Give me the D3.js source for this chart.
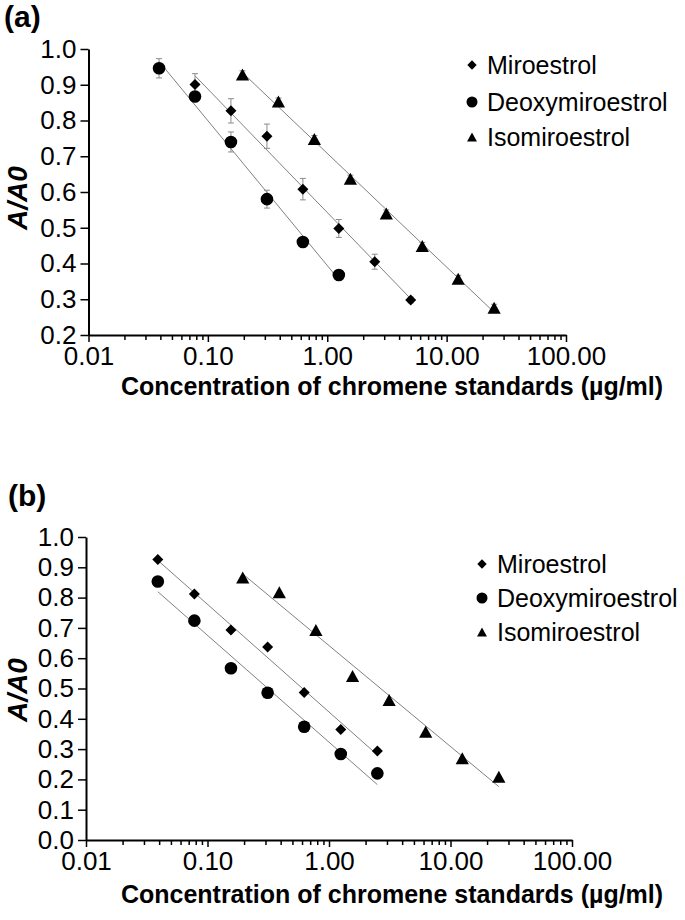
<!DOCTYPE html>
<html><head><meta charset="utf-8">
<script src="https://cdn.jsdelivr.net/npm/d3@7"></script>
<style>body{margin:0;background:#fff}svg{display:block}</style>
</head><body><svg id="c" width="685" height="920"></svg>
<script>
// ---------- data ----------
const seriesNames = ["Miroestrol", "Deoxymiroestrol", "Isomiroestrol"];
const xTickValues = [0.01, 0.1, 1, 10, 100];
const xTickLabels = ["0.01", "0.10", "1.00", "10.00", "100.00"];
const yTicksA = [0.2, 0.3, 0.4, 0.5, 0.6, 0.7, 0.8, 0.9, 1.0];
const yTicksB = [0.0, 0.1, 0.2, 0.3, 0.4, 0.5, 0.6, 0.7, 0.8, 0.9, 1.0];

// panel (a)
const concMiroA  = [0.078, 0.156, 0.3125, 0.625, 1.25, 2.5, 5];
const miroA      = [0.901, 0.827, 0.756, 0.608, 0.498, 0.405, 0.298];
const miroErrA   = [0.030, 0.034, 0.034, 0.030, 0.025, 0.021, 0.008];
const concDeoxyA = [0.039, 0.078, 0.156, 0.3125, 0.625, 1.25];
const deoxyA     = [0.946, 0.867, 0.740, 0.580, 0.460, 0.368];
const deoxyErrA  = [0.027, 0.012, 0.028, 0.025, 0.012, 0.010];
const concIsoA   = [0.195, 0.39, 0.78, 1.5625, 3.125, 6.25, 12.5, 25];
const isoA       = [0.929, 0.853, 0.748, 0.637, 0.540, 0.449, 0.357, 0.276];
const isoErrA    = [0.010, 0.010, 0.010, 0.010, 0.010, 0.010, 0.010, 0.010];

// panel (b)
const concMiroB  = [0.039, 0.078, 0.156, 0.3125, 0.625, 1.25, 2.5];
const miroB      = [0.926, 0.812, 0.693, 0.637, 0.487, 0.365, 0.294];
const concDeoxyB = [0.039, 0.078, 0.156, 0.3125, 0.625, 1.25, 2.5];
const deoxyB     = [0.853, 0.724, 0.567, 0.486, 0.374, 0.284, 0.220];
const concIsoB   = [0.195, 0.39, 0.78, 1.5625, 3.125, 6.25, 12.5, 25];
const isoB       = [0.866, 0.818, 0.693, 0.541, 0.462, 0.357, 0.270, 0.209];

// ---------- drawing ----------
const FONT = "'Liberation Sans', Arial, Helvetica, sans-serif";
const svg = d3.select("#c");
svg.append("rect").attr("width", 685).attr("height", 920).attr("fill", "#fff");

function markerPath(type, cx, cy, s) {
  const p = d3.path();
  if (type === "diamond") {
    p.moveTo(cx, cy - s); p.lineTo(cx + s, cy); p.lineTo(cx, cy + s); p.lineTo(cx - s, cy); p.closePath();
  } else if (type === "circle") {
    p.arc(cx, cy, s, 0, 2 * Math.PI);
  } else {
    const w = s * 1.1, h = s;
    p.moveTo(cx, cy - h); p.lineTo(cx + w, cy + h); p.lineTo(cx - w, cy + h); p.closePath();
  }
  return p.toString();
}

function logFit(xs, ys) {
  const lx = xs.map(Math.log);
  const mx = d3.mean(lx), my = d3.mean(ys);
  let sxy = 0, sxx = 0;
  lx.forEach((v, i) => { sxy += (v - mx) * (ys[i] - my); sxx += (v - mx) * (v - mx); });
  const b = sxy / sxx, a = my - b * mx;
  return x => a + b * Math.log(x);
}

function panel(cfg) {
  const g = svg.append("g");
  const x = d3.scaleLog().domain([0.01, 100]).range(cfg.xr);
  const y = d3.scaleLinear().domain(cfg.yd).range(cfg.yr);
  const y0 = cfg.yr[0];

  // x axis: minor ticks
  const minor = x.ticks().filter(v => !xTickValues.some(t => Math.abs(t - v) / t < 1e-9));
  g.append("g").attr("transform", `translate(0,${y0})`)
    .call(d3.axisBottom(x).tickValues(minor).tickSize(5).tickSizeOuter(0).tickFormat(""))
    .call(a => a.select(".domain").remove())
    .call(a => a.selectAll("line").attr("stroke", "#000").attr("stroke-width", 1.5));
  // x axis: major
  g.append("g").attr("transform", `translate(0,${y0})`)
    .call(d3.axisBottom(x).tickValues(xTickValues).tickSize(7).tickSizeOuter(0).tickPadding(cfg.xPad)
      .tickFormat((d, i) => xTickLabels[i]))
    .call(a => a.select(".domain").attr("stroke", "#000").attr("stroke-width", 2))
    .call(a => a.selectAll("line").attr("stroke", "#000").attr("stroke-width", 1.5))
    .call(a => a.selectAll("text").attr("font-family", FONT).attr("font-size", 26).attr("fill", "#000"));

  // y axis
  g.append("g").attr("transform", `translate(${cfg.xr[0]},0)`)
    .call(d3.axisLeft(y).tickValues(cfg.yTicks).tickSize(8).tickSizeOuter(0).tickPadding(4)
      .tickFormat(d3.format(".1f")))
    .call(a => a.select(".domain").attr("stroke", "#000").attr("stroke-width", 2))
    .call(a => a.selectAll("line").attr("stroke", "#000").attr("stroke-width", 1.5))
    .call(a => a.selectAll("text").attr("font-family", FONT).attr("font-size", 26).attr("fill", "#000"));

  // axis titles
  g.append("text").attr("x", 392).attr("y", y0 + cfg.titleOff)
    .attr("text-anchor", "middle").attr("dominant-baseline", "central")
    .attr("font-family", FONT).attr("font-size", 25).attr("font-weight", "bold")
    .text("Concentration of chromene standards (µg/ml)");
  g.append("text")
    .attr("transform", `translate(17,${cfg.yTitleY}) rotate(-90)`)
    .attr("text-anchor", "middle").attr("dominant-baseline", "central")
    .attr("font-family", FONT).attr("font-size", 28).attr("font-weight", "bold").attr("font-style", "italic")
    .text("A/A0");
  g.append("text").attr("x", cfg.labelX).attr("y", cfg.labelY)
    .attr("font-family", FONT).attr("font-size", 30).attr("font-weight", "bold").text(cfg.label);

  // series
  cfg.series.forEach(s => {
    const f = logFit(s.conc, s.vals);
    const x1 = d3.min(s.conc), x2 = d3.max(s.conc);
    g.append("line").attr("x1", x(x1)).attr("y1", y(f(x1))).attr("x2", x(x2)).attr("y2", y(f(x2)))
      .attr("stroke", "#808080").attr("stroke-width", 1);
    if (s.err) {
      s.conc.forEach((c, i) => {
        const cx = x(c), top = y(s.vals[i] + s.err[i]), bot = y(s.vals[i] - s.err[i]);
        const eg = g.append("g").attr("stroke", "#8c8c8c").attr("stroke-width", 1);
        eg.append("line").attr("x1", cx).attr("x2", cx).attr("y1", top).attr("y2", bot);
        eg.append("line").attr("x1", cx - 3).attr("x2", cx + 3).attr("y1", top).attr("y2", top);
        eg.append("line").attr("x1", cx - 3).attr("x2", cx + 3).attr("y1", bot).attr("y2", bot);
      });
    }
    s.conc.forEach((c, i) => {
      g.append("path").attr("d", markerPath(s.type, x(c), y(s.vals[i]), s.size)).attr("fill", "#000");
    });
  });

  // legend
  seriesNames.forEach((name, i) => {
    const ly = cfg.legY[i];
    const t = cfg.series[i].type;
    const sz = t === "circle" ? 5.5 : t === "diamond" ? 4.7 : 4.5;
    g.append("path").attr("d", markerPath(t, cfg.legMX, ly, sz)).attr("fill", "#000");
    g.append("text").attr("x", cfg.legTX).attr("y", ly).attr("dominant-baseline", "central")
      .attr("font-family", FONT).attr("font-size", 25).attr("fill", "#000").text(name);
  });
}

panel({
  xr: [88.5, 566], yd: [0.2, 1.0], yr: [335, 49], yTicks: yTicksA,
  xPad: 5, titleOff: 51, yTitleY: 198,
  label: "(a)", labelX: 4, labelY: 27,
  legMX: 472, legTX: 487, legY: [65, 102, 137],
  series: [
    {type: "diamond", conc: concMiroA, vals: miroA, err: miroErrA, size: 5.5},
    {type: "circle", conc: concDeoxyA, vals: deoxyA, err: deoxyErrA, size: 6.3},
    {type: "triangle", conc: concIsoA, vals: isoA, err: isoErrA, size: 6}
  ]
});
panel({
  xr: [86, 572], yd: [0.0, 1.0], yr: [840, 537], yTicks: yTicksB,
  xPad: 5, titleOff: 54, yTitleY: 690,
  label: "(b)", labelX: 8, labelY: 506,
  legMX: 482, legTX: 497, legY: [564, 598, 632],
  series: [
    {type: "diamond", conc: concMiroB, vals: miroB, size: 5.5},
    {type: "circle", conc: concDeoxyB, vals: deoxyB, size: 6.3},
    {type: "triangle", conc: concIsoB, vals: isoB, size: 6}
  ]
});
</script></body></html>
